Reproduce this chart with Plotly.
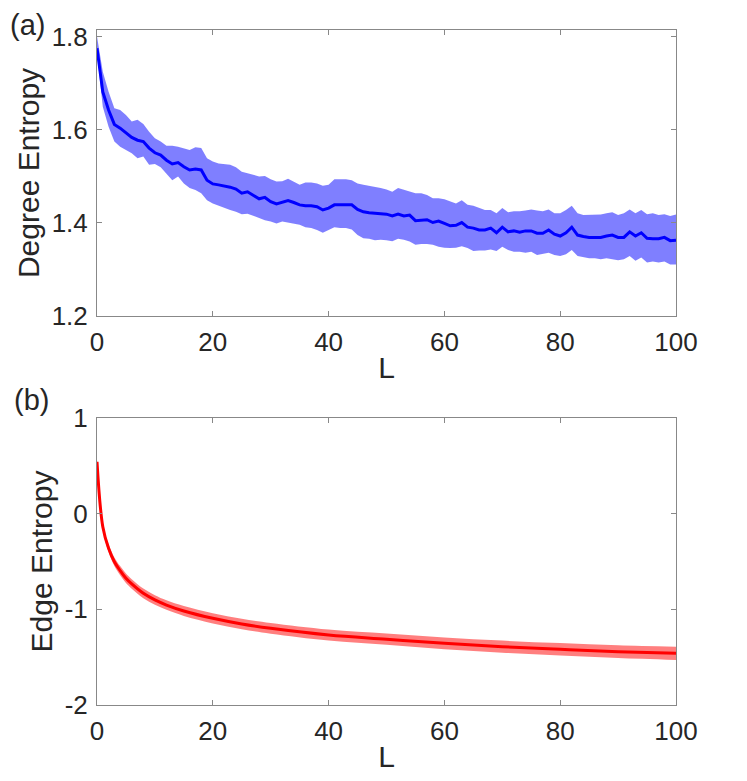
import plotly.graph_objects as go

# panel (a): degree entropy, mean and band, L = 0..100
L_deg = list(range(101))
deg_mean = [
    1.776, 1.682, 1.643, 1.612, 1.604, 1.594, 1.584, 1.578, 1.575, 1.561,
    1.551, 1.546, 1.535, 1.527, 1.530, 1.521, 1.514, 1.516, 1.514, 1.492,
    1.484, 1.482, 1.480, 1.477, 1.473, 1.464, 1.467, 1.459, 1.452, 1.455,
    1.446, 1.441, 1.445, 1.448, 1.444, 1.439, 1.437, 1.437, 1.435, 1.428,
    1.432, 1.439, 1.439, 1.439, 1.439, 1.429, 1.424, 1.422, 1.421, 1.421,
    1.419, 1.415, 1.419, 1.415, 1.417, 1.405, 1.406, 1.407, 1.401, 1.404,
    1.399, 1.394, 1.395, 1.401, 1.391, 1.389, 1.385, 1.385, 1.389, 1.379,
    1.391, 1.381, 1.383, 1.380, 1.383, 1.383, 1.378, 1.378, 1.385, 1.376,
    1.372, 1.379, 1.391, 1.374, 1.371, 1.369, 1.369, 1.369, 1.372, 1.374,
    1.369, 1.369, 1.381, 1.372, 1.379, 1.367, 1.366, 1.366, 1.369, 1.362,
    1.363,
]
deg_upper = [
    1.801, 1.725, 1.682, 1.647, 1.643, 1.632, 1.618, 1.622, 1.613, 1.596,
    1.582, 1.575, 1.566, 1.566, 1.564, 1.561, 1.557, 1.563, 1.561, 1.539,
    1.532, 1.528, 1.527, 1.525, 1.520, 1.510, 1.507, 1.503, 1.500, 1.501,
    1.494, 1.489, 1.490, 1.495, 1.489, 1.482, 1.487, 1.487, 1.485, 1.480,
    1.482, 1.494, 1.494, 1.494, 1.492, 1.485, 1.482, 1.480, 1.478, 1.475,
    1.472, 1.467, 1.475, 1.471, 1.467, 1.464, 1.464, 1.460, 1.453, 1.453,
    1.451, 1.446, 1.442, 1.449, 1.439, 1.437, 1.432, 1.428, 1.428, 1.421,
    1.432, 1.423, 1.425, 1.425, 1.427, 1.429, 1.427, 1.425, 1.429, 1.421,
    1.421, 1.428, 1.437, 1.421, 1.417, 1.417, 1.418, 1.418, 1.421, 1.423,
    1.417, 1.421, 1.429, 1.421, 1.428, 1.419, 1.421, 1.417, 1.419, 1.415,
    1.418,
]
deg_lower = [
    1.765, 1.650, 1.607, 1.575, 1.564, 1.557, 1.550, 1.539, 1.543, 1.525,
    1.527, 1.520, 1.507, 1.492, 1.500, 1.485, 1.475, 1.471, 1.464, 1.449,
    1.442, 1.437, 1.432, 1.428, 1.424, 1.419, 1.420, 1.415, 1.410, 1.406,
    1.403, 1.399, 1.403, 1.401, 1.398, 1.396, 1.391, 1.389, 1.385, 1.379,
    1.385, 1.391, 1.389, 1.389, 1.386, 1.374, 1.367, 1.366, 1.363, 1.364,
    1.363, 1.361, 1.366, 1.364, 1.360, 1.353, 1.355, 1.355, 1.353, 1.349,
    1.347, 1.346, 1.347, 1.350, 1.346, 1.340, 1.341, 1.341, 1.343, 1.340,
    1.349, 1.342, 1.338, 1.338, 1.336, 1.338, 1.331, 1.333, 1.336, 1.331,
    1.329, 1.333, 1.342, 1.329, 1.326, 1.324, 1.324, 1.322, 1.324, 1.322,
    1.320, 1.322, 1.329, 1.319, 1.326, 1.315, 1.317, 1.315, 1.317, 1.311,
    1.311,
]

# panel (b): edge entropy, smooth curve
L_edge = [0, 1, 2, 3, 4, 5, 6, 8, 10, 12, 15, 20, 25, 30, 40, 50, 60, 70, 80, 90, 100]
edge_mean = [0.543, -0.136, -0.362, -0.502, -0.596, -0.676, -0.735, -0.833, -0.902,
             -0.955, -1.017, -1.094, -1.153, -1.198, -1.268, -1.312, -1.355, -1.390,
             -1.418, -1.443, -1.460]
edge_half = [0.02, 0.03, 0.04, 0.045, 0.048, 0.05, 0.05, 0.05, 0.05, 0.05, 0.052, 0.053,
             0.055, 0.056, 0.057, 0.059, 0.061, 0.063, 0.065, 0.067, 0.07]
edge_upper = [m + h for m, h in zip(edge_mean, edge_half)]
edge_lower = [m - h for m, h in zip(edge_mean, edge_half)]

x_ticks = [0, 20, 40, 60, 80, 100]
deg_ticks = [1.2, 1.4, 1.6, 1.8]
edge_ticks = [-2, -1, 0, 1]
edge_tick_text = ["-2", "-1", "0", "1"]

fig = go.Figure()

# top panel
fig.add_trace(go.Scatter(x=L_deg, y=deg_upper, mode="lines", line=dict(width=0),
                         showlegend=False, hoverinfo="skip", xaxis="x", yaxis="y"))
fig.add_trace(go.Scatter(x=L_deg, y=deg_lower, mode="lines", line=dict(width=0),
                         fill="tonexty", fillcolor="rgba(0,0,255,0.5)",
                         showlegend=False, hoverinfo="skip", xaxis="x", yaxis="y"))
fig.add_trace(go.Scatter(x=L_deg, y=deg_mean, mode="lines",
                         line=dict(color="#0000ff", width=3),
                         showlegend=False, xaxis="x", yaxis="y"))

# bottom panel
fig.add_trace(go.Scatter(x=L_edge, y=edge_upper, mode="lines",
                         line=dict(width=0, shape="spline"),
                         showlegend=False, hoverinfo="skip", xaxis="x2", yaxis="y2"))
fig.add_trace(go.Scatter(x=L_edge, y=edge_lower, mode="lines",
                         line=dict(width=0, shape="spline"),
                         fill="tonexty", fillcolor="rgba(255,0,0,0.5)",
                         showlegend=False, hoverinfo="skip", xaxis="x2", yaxis="y2"))
fig.add_trace(go.Scatter(x=L_edge, y=edge_mean, mode="lines",
                         line=dict(color="#ff0000", width=3, shape="spline"),
                         showlegend=False, xaxis="x2", yaxis="y2"))

W, H = 747, 781
OFF = 8  # page body margin


def px_x(p):
    return (p - OFF) / W


def px_y(p):
    return 1 - (p - OFF) / H


x_dom = [px_x(97), px_x(676)]
font = dict(family="Liberation Sans, Arial, sans-serif", size=26, color="#262626")
title_font = dict(family="Liberation Sans, Arial, sans-serif", size=30, color="#262626")

axis_style = dict(
    showline=True, linecolor="#888888", linewidth=1, mirror="ticks",
    ticks="inside", ticklen=5, tickcolor="#888888", showgrid=False,
    zeroline=False, tickfont=font, automargin=False, ticklabelstandoff=3,
)

fig.update_layout(
    width=W, height=H, autosize=False,
    margin=dict(l=0, r=0, t=0, b=0),
    paper_bgcolor="white", plot_bgcolor="white",
    font=font,
    xaxis=dict(domain=x_dom, range=[0, 100], tickvals=x_ticks, anchor="y",
               title=dict(text="L", font=title_font, standoff=0), **axis_style),
    yaxis=dict(domain=[px_y(316), px_y(30)], range=[1.2, 1.815],
               tickvals=deg_ticks, tickformat=".1f", anchor="x",
               title=dict(text="Degree Entropy", font=title_font, standoff=3),
               **axis_style),
    xaxis2=dict(domain=x_dom, range=[0, 100], tickvals=x_ticks, anchor="y2",
                title=dict(text="L", font=title_font, standoff=0), **axis_style),
    yaxis2=dict(domain=[px_y(705), px_y(418)], range=[-2, 1],
                tickvals=edge_ticks, ticktext=edge_tick_text, anchor="x2",
                title=dict(text="Edge Entropy", font=title_font, standoff=3),
                **axis_style),
    annotations=[
        dict(text="(a)", x=px_x(27.5), y=px_y(25), xref="paper", yref="paper",
             xanchor="center", yanchor="middle", showarrow=False,
             font=dict(family="Liberation Sans, Arial, sans-serif", size=29,
                       color="#262626")),
        dict(text="(b)", x=px_x(31), y=px_y(400), xref="paper", yref="paper",
             xanchor="center", yanchor="middle", showarrow=False,
             font=dict(family="Liberation Sans, Arial, sans-serif", size=29,
                       color="#262626")),
    ],
)

fig.write_html("out.html")
